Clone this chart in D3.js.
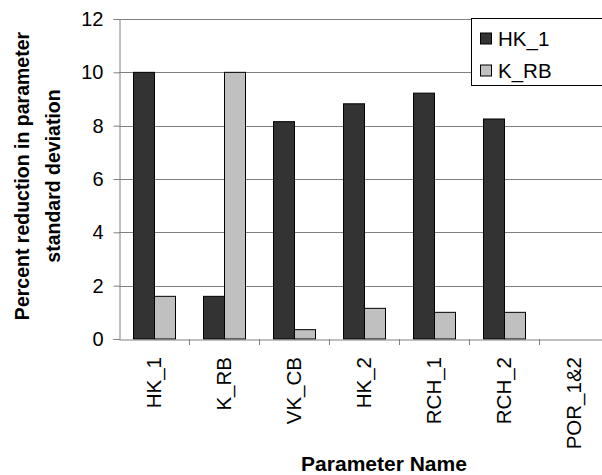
<!DOCTYPE html>
<html>
<head>
<meta charset="utf-8">
<script src="https://cdn.jsdelivr.net/npm/d3@7"></script>
<style>
  html, body { margin: 0; padding: 0; background: #fff; }
  svg { display: block; }
  text { font-family: Arial, "Liberation Sans", sans-serif; fill: #000; }
</style>
</head>
<body>
<svg id="chart" width="602" height="475"></svg>
<script>
const categories = ["HK_1", "K_RB", "VK_CB", "HK_2", "RCH_1", "RCH_2", "POR_1&2"];
const seriesNames = ["HK_1", "K_RB"];
const hk1Values = [10.0, 1.6, 8.15, 8.82, 9.22, 8.25, 0];
const krbValues = [1.6, 10.0, 0.35, 1.15, 1.0, 1.0, 0];
const yTicks = [0, 2, 4, 6, 8, 10, 12];
const seriesColors = ["#333333", "#c0c0c0"];

const svg = d3.select("#chart");
const plotL = 119, plotR = 609, plotT = 19, plotB = 339;

const x = d3.scaleBand().domain(categories).range([plotL, plotR]).padding(0);
const bw = x.bandwidth();
const xs = d3.scaleBand().domain(seriesNames).range([bw * 0.2, bw * 0.8]).padding(0);
const y = d3.scaleLinear().domain([0, 12]).range([plotB, plotT]);

// gridlines
svg.append("g").selectAll("line").data(yTicks.filter(d => d > 0)).join("line")
  .attr("x1", plotL).attr("x2", plotR)
  .attr("y1", d => Math.round(y(d)) + 0.5).attr("y2", d => Math.round(y(d)) + 0.5)
  .attr("stroke", "#808080").attr("stroke-width", 1);

// bars
const data = categories.map((c, i) => ({ cat: c, vals: [hk1Values[i], krbValues[i]] }));
const groups = svg.append("g").selectAll("g").data(data).join("g")
  .attr("transform", d => `translate(${x(d.cat)},0)`);
groups.selectAll("rect").data(d => d.vals.map((v, j) => ({ name: seriesNames[j], v, j })).filter(e => e.v > 0))
  .join("rect")
  .attr("x", d => xs(d.name) + 0.5)
  .attr("width", xs.bandwidth())
  .attr("y", d => y(d.v))
  .attr("height", d => y(0) - y(d.v))
  .attr("fill", d => seriesColors[d.j])
  .attr("stroke", "#000").attr("stroke-width", 1);

// y axis
const yAxis = d3.axisLeft(y).tickValues(yTicks).tickSize(6).tickPadding(10).tickFormat(d3.format("d"));
const yg = svg.append("g").attr("transform", `translate(${plotL + 0.5},0)`).call(yAxis);
yg.select(".domain").attr("stroke", "#808080");
yg.selectAll(".tick line").attr("stroke", "#808080");
yg.selectAll(".tick text").attr("font-size", "20px").attr("font-family", "Arial, 'Liberation Sans', sans-serif").attr("fill", "#000");

// x axis
const xAxis = d3.axisBottom(x).tickSize(0).tickFormat("");
const xg = svg.append("g").attr("transform", `translate(0,${plotB + 0.5})`).call(xAxis);
xg.select(".domain").attr("stroke", "#808080");
xg.selectAll(".tick").remove();
// tick marks at category boundaries
svg.append("g").selectAll("line").data(categories).join("line")
  .attr("x1", d => Math.round(x(d) + bw) + 0.5).attr("x2", d => Math.round(x(d) + bw) + 0.5)
  .attr("y1", plotB).attr("y2", plotB + 6)
  .attr("stroke", "#808080");
// tick labels
svg.append("g").selectAll("text").data(categories).join("text")
  .attr("transform", d => `translate(${x(d) + bw / 2},357) rotate(-90)`)
  .attr("text-anchor", "end").attr("dy", "0.35em")
  .attr("font-size", "20.5px")
  .text(d => d);

// axis titles
svg.append("text").attr("x", 384).attr("y", 471).attr("text-anchor", "middle")
  .attr("font-size", "21px").attr("font-weight", "bold").text("Parameter Name");
const yt = svg.append("text").attr("transform", "translate(0,176) rotate(-90)")
  .attr("text-anchor", "middle").attr("font-size", "19.5px").attr("font-weight", "bold");
yt.append("tspan").attr("x", 0).attr("y", 29).text("Percent reduction in parameter");
yt.append("tspan").attr("x", 0).attr("y", 60).text("standard deviation");

// legend
const lg = svg.append("g");
lg.append("rect").attr("x", 471.5).attr("y", 18.5).attr("width", 140).attr("height", 67)
  .attr("fill", "#fff").attr("stroke", "#000");
seriesNames.forEach((n, i) => {
  const cy = 38.5 + i * 32;
  lg.append("rect").attr("x", 480.5).attr("y", cy - 5.5).attr("width", 11).attr("height", 11)
    .attr("fill", seriesColors[i]).attr("stroke", "#000");
  lg.append("text").attr("x", 498).attr("y", cy + 7).attr("font-size", "20.5px").text(n);
});
</script>
</body>
</html>
